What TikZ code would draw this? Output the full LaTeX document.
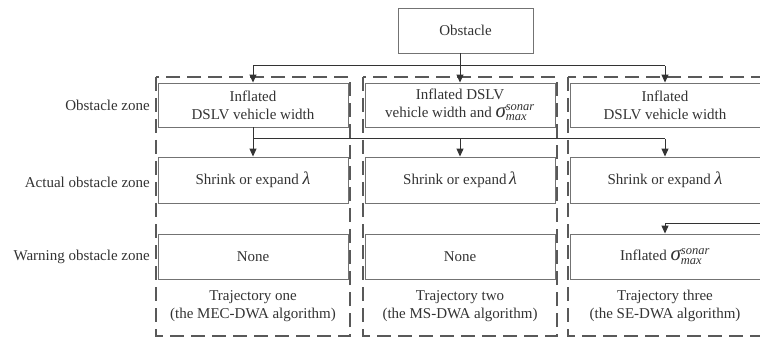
\documentclass[tikz,border=0pt]{standalone}
\usepackage{amsmath}
\usepackage{fontspec}
\setmainfont{Liberation Serif}
\usetikzlibrary{arrows.meta}
\begin{document}
\begin{tikzpicture}[x=1pt,y=-1pt,
  every node/.style={font=\fontsize{15}{18}\selectfont, text=black!80},
  zonebox/.style={draw=black!55, line width=0.9pt, minimum width=190pt, inner sep=0pt, align=center},
  lane/.style={draw=black!65, line width=1.2pt, dash pattern=on 14pt off 7pt},
  link/.style={draw=black!80, line width=1pt},
  arr/.style={link, -{Triangle[length=8pt,width=7pt]}},
  rowlabel/.style={anchor=east, inner sep=0pt}
]
\useasboundingbox (0,0) rectangle (760,339);
\newcommand{\scr}[1]{\text{\fontsize{12.5}{12.5}\selectfont\itshape #1}}
\newcommand{\sig}{${\text{\fontsize{21}{21}\selectfont\itshape σ}}^{\scr{sonar}}_{\scr{max}}$}
\newcommand{\lam}{{\fontsize{18}{18}\selectfont\itshape λ}}

% dashed trajectory lanes
\draw[lane] (156,77) rectangle (350,336);
\draw[lane] (363,77) rectangle (557,336);
\draw[lane] (568,77) rectangle (775,336);

% source node
\node[draw=black!55, line width=0.9pt, minimum width=135pt, minimum height=45pt, inner sep=0pt] (ob) at (465.5,30.5) {Obstacle};

% row 1: obstacle zone
\node[zonebox, minimum height=44pt] (b11) at (253,105) {Inflated\\DSLV vehicle width};
\node[zonebox, minimum height=44pt] (b12) at (460,105) {Inflated DSLV\\vehicle width and \sig};
\node[zonebox, minimum height=44pt] (b13) at (665,105) {Inflated\\DSLV vehicle width};

% row 2: actual obstacle zone
\node[zonebox, minimum height=46pt] (b21) at (253,180) {Shrink or expand \lam};
\node[zonebox, minimum height=46pt] (b22) at (460,180) {Shrink or expand\,\lam};
\node[zonebox, minimum height=46pt] (b23) at (665,180) {Shrink or expand \lam};

% row 3: warning obstacle zone
\node[zonebox, minimum height=45pt] (b31) at (253,256.5) {None};
\node[zonebox, minimum height=45pt] (b32) at (460,256.5) {None};
\node[zonebox, minimum height=45pt] (b33) at (665,256.5) {Inflated \sig};

% trajectory captions
\node[align=center] (t1) at (253,306) {Trajectory one\\(the MEC-DWA algorithm)};
\node[align=center] (t2) at (460,306) {Trajectory two\\(the MS-DWA algorithm)};
\node[align=center] (t3) at (665,306) {Trajectory three\\(the SE-DWA algorithm)};

% row labels
\node[rowlabel] (l1) at (150,105) {Obstacle zone};
\node[rowlabel] (l2) at (150,182) {Actual obstacle zone};
\node[rowlabel] (l3) at (150,257) {Warning obstacle zone};

% junction levels
\coordinate (j1) at (0,66);
\coordinate (j2) at (0,139);
\coordinate (src3) at (765,223);

% obstacle feeds the three obstacle zones
\draw[arr] (ob.south -| b12.north) -- (b12.north);
\draw[link] (b11.north |- j1) -- (b13.north |- j1);
\draw[arr] (b11.north |- j1) -- (b11.north);
\draw[arr] (b13.north |- j1) -- (b13.north);

% obstacle zone feeds the actual obstacle zones
\draw[link] (b11.south) -- (b11.south |- j2) -- (b13.north |- j2);
\draw[arr] (b11.south |- j2) -- (b21.north);
\draw[arr] (b12.south |- j2) -- (b22.north);
\draw[arr] (b13.south |- j2) -- (b23.north);

% warning zone input of trajectory three
\draw[arr] (src3) -- (src3 -| b33.north) -- (b33.north);
\end{tikzpicture}
\end{document}
